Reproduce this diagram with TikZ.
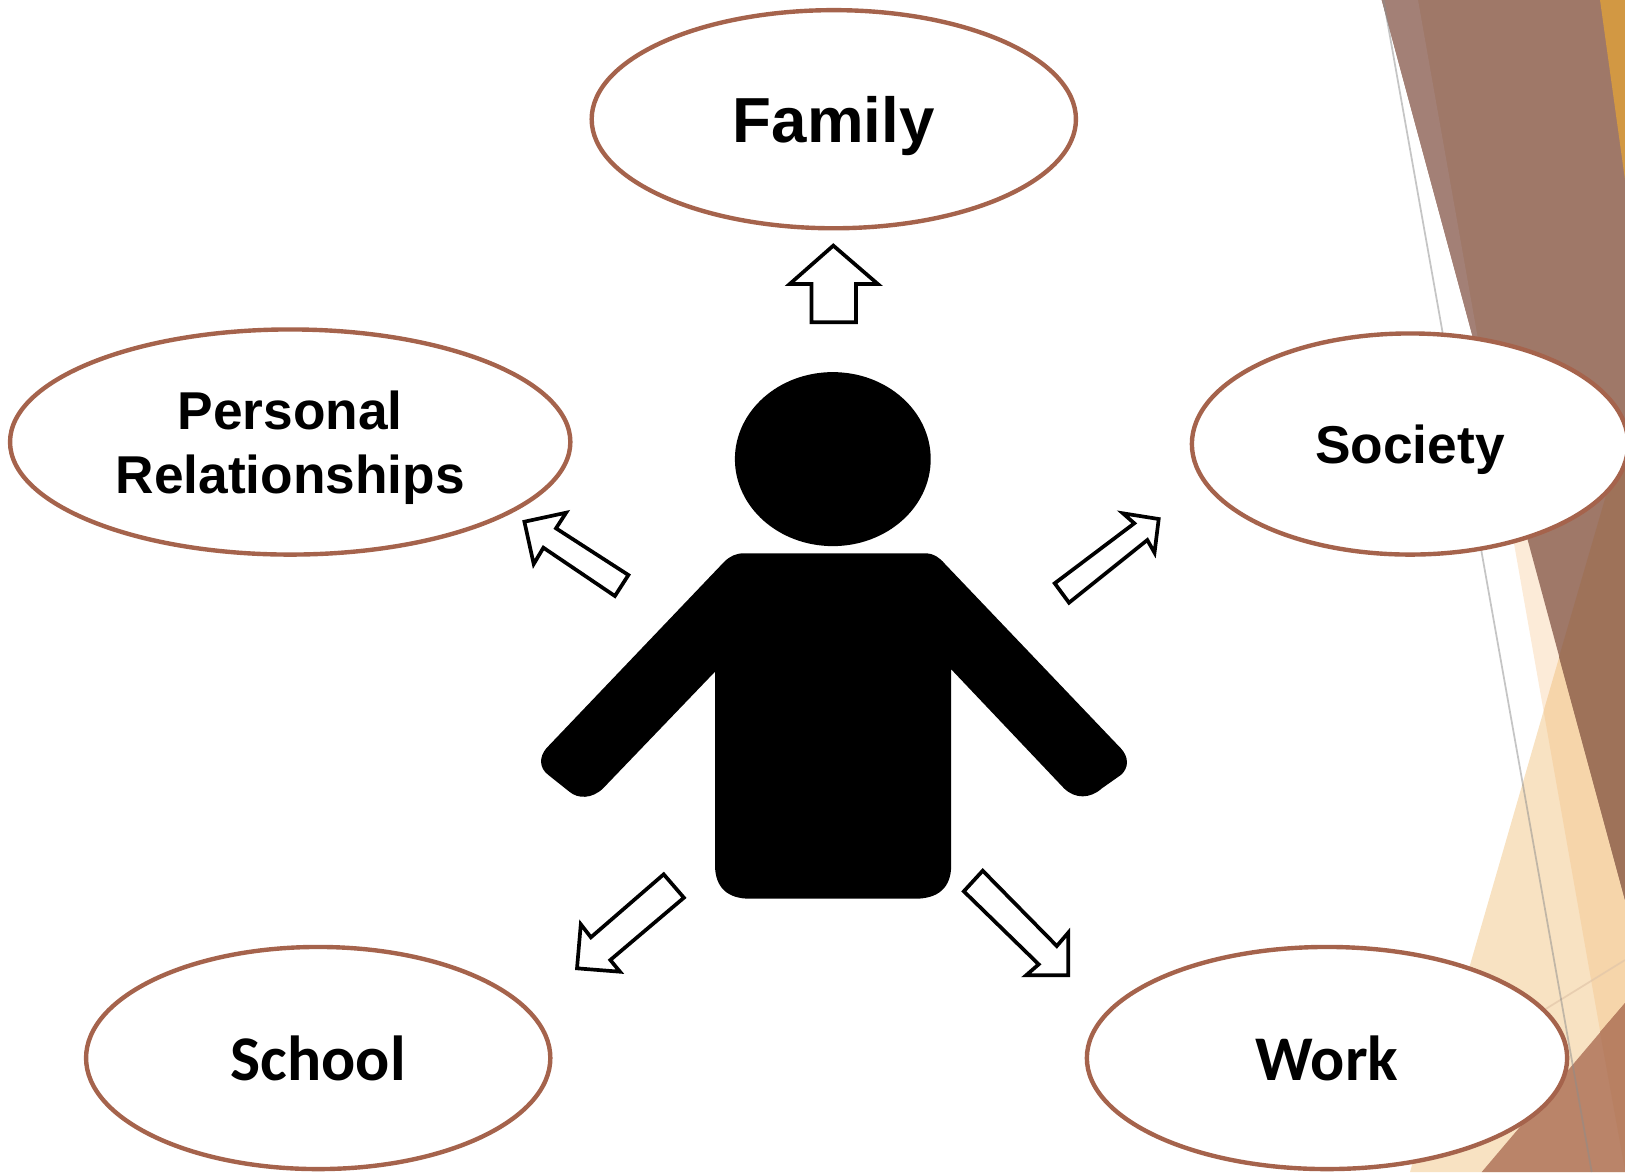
\documentclass[tikz,border=0pt]{standalone}
\usepackage{fontspec}
\setmainfont{Liberation Sans}
\newfontfamily\carlito{Carlito}
\usetikzlibrary{shapes.geometric}

\definecolor{rimbrown}{HTML}{A5634C}
\definecolor{mauvebrown}{HTML}{A38076}
\definecolor{mainbrown}{HTML}{9F7868}
\definecolor{deepbrown}{HTML}{9E7259}
\definecolor{topamber}{HTML}{D29843}
\definecolor{paletan}{HTML}{F8E2C2}
\definecolor{stripamber}{HTML}{F3AF64}
\definecolor{salmonbrown}{HTML}{BA8469}
\definecolor{salmondeep}{HTML}{B88062}

\tikzset{
  topic/.style={ellipse, draw=rimbrown, line width=1.25pt, fill=white, inner sep=0pt,
    align=center, text depth=0pt, font=\fontsize{15.15}{18.3}\selectfont\bfseries},
  bigtopic/.style={topic, font=\fontsize{18.1}{22}\selectfont\bfseries},
  calibritopic/.style={topic, font=\carlito\fontsize{18.1}{22}\selectfont\bfseries},
  blockarrow/.style={draw=black, line width=1.05pt, fill=white, line join=miter},
  hairline/.style={line width=0.5pt}
}

\begin{document}
\begin{tikzpicture}[x=0.01cm, y=-0.01cm]
  \useasboundingbox (0,0) rectangle (1625,1172);

  % Background wedges
  \fill[paletan] (1625,430) -- (1410,1172) -- (1625,1172) -- cycle;
  \fill[stripamber, opacity=0.25] (1418,0) -- (1625,1172) -- (1625,0) -- cycle;
  \draw[hairline, color=brown!45, opacity=0.7] (1450,1068) -- (1625,960);
  \fill[mainbrown] (1381.7,0) -- (1625,0) -- (1625,900) -- cycle;
  \fill[mauvebrown] (1381.7,0) -- (1418,0) -- (1487,390) -- cycle;
  \fill[deepbrown] (1625,430) -- (1625,900) -- (1559,657) -- cycle;
  \fill[topamber] (1600,0) -- (1625,0) -- (1625,180) -- cycle;
  \fill[salmonbrown] (1625,1003) -- (1481.7,1172) -- (1625,1172) -- cycle;
  \fill[salmondeep] (1600,1032) -- (1625,1003) -- (1625,1170) -- cycle;
  \draw[hairline, color=black!45, opacity=0.5] (1383.5,0) -- (1591.7,1172);

  % Topics
  \node[bigtopic, minimum width=4.84cm, minimum height=2.18cm] (family) at (833.8,119.2) {Family};
  \node[topic, minimum width=5.6cm, minimum height=2.25cm] (personal) at (290.2,442) {Personal\\Relationships};
  \node[topic, minimum width=4.36cm, minimum height=2.21cm] (society) at (1410,444) {Society};
  \node[calibritopic, minimum width=4.64cm, minimum height=2.22cm] (school) at (318.2,1058) {School};
  \node[calibritopic, minimum width=4.8cm, minimum height=2.22cm] (work) at (1327,1058) {Work};

  % Person
  \fill[black] (832.8,459.1) ellipse (97.9 and 87);
  \fill[black] (744,553.3) -- (925,553.3)
    .. controls (934,553.3) and (940,558) .. (945,564)
    -- (1120.8,748.3)
    .. controls (1129,757) and (1129,768) .. (1120.8,775)
    -- (1101.9,788.3)
    .. controls (1090,799) and (1075,799) .. (1064,788.3)
    -- (951.2,669.3) -- (951.2,865)
    .. controls (951.2,888) and (938,898.7) .. (915,898.7)
    -- (750,898.7)
    .. controls (728,898.7) and (715,888) .. (715,865)
    -- (715,671.7) -- (603.1,788.3)
    .. controls (592,799) and (578,799) .. (569.4,791.7)
    -- (548.4,775)
    .. controls (539,768) and (539,757) .. (546.3,748.3)
    -- (724,562)
    .. controls (730,556) and (736,553.3) .. (744,553.3) -- cycle;

  % Arrows
  \draw[blockarrow] (833.3,245.6) -- (877.8,284) -- (856,284) -- (856,322.3)
    -- (811.5,322.3) -- (811.5,284) -- (789.7,284) -- cycle;
  \draw[blockarrow] (524.4,521.7) -- (566.1,512.7) -- (556,528.3) -- (628.4,575)
    -- (614.9,596) -- (543.4,547.7) -- (533.7,564) -- cycle;
  \draw[blockarrow] (1158.7,519) -- (1154.5,552.7) -- (1147.3,540) -- (1069,602.7)
    -- (1054.7,583.3) -- (1134.3,523.3) -- (1122.9,513.3) -- cycle;
  \draw[blockarrow] (577,968.3) -- (580.8,924.3) -- (590.9,937.3) -- (663.7,874.3)
    -- (683.9,897.7) -- (610.3,960) -- (620,971.7) -- cycle;
  \draw[blockarrow] (1068.2,975.3) -- (1026.1,975.3) -- (1038.7,964.3) -- (963.8,891.3)
    -- (982.7,870.7) -- (1056.8,946) -- (1068.2,932.7) -- cycle;
\end{tikzpicture}
\end{document}
